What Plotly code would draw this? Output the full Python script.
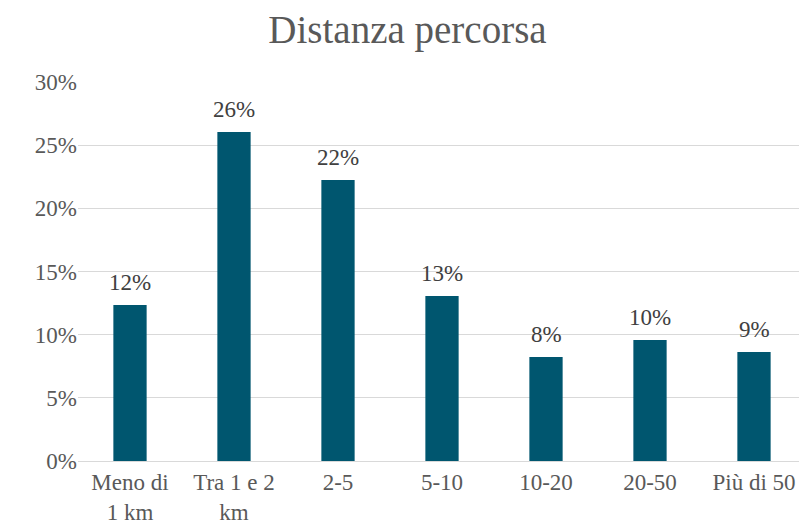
import plotly.graph_objects as go

categories = ["Meno di<br>1 km", "Tra 1 e 2<br>km", "2-5", "5-10", "10-20", "20-50", "Più di 50"]
values = [0.1235, 0.2605, 0.2225, 0.1306, 0.0823, 0.0958, 0.0863]
labels = ["12%", "26%", "22%", "13%", "8%", "10%", "9%"]
y_ticks = [0, 0.05, 0.10, 0.15, 0.20, 0.25, 0.30]
y_tick_labels = ["0%", "5%", "10%", "15%", "20%", "25%", "30%"]

font_family = "Liberation Serif"
text_color = "#595959"

fig = go.Figure(go.Bar(
    x=categories,
    y=values,
    marker=dict(color="#00566F", line=dict(width=0)),
    width=0.32,
    cliponaxis=False,
))

for c, v, t in zip(categories, values, labels):
    fig.add_annotation(x=c, y=v, text=t, showarrow=False, yanchor="bottom", yshift=8,
                       font=dict(family=font_family, size=23, color="#404040"))

fig.update_layout(
    width=799, height=518,
    margin=dict(l=70, r=1, t=74, b=65),
    paper_bgcolor="white",
    plot_bgcolor="white",
    title=dict(text="Distanza percorsa", x=0.5, xanchor="center", y=0.958, yanchor="middle",
               font=dict(family=font_family, size=39, color=text_color)),
    font=dict(family=font_family, size=23, color=text_color),
    showlegend=False,
)
fig.update_yaxes(range=[0, 0.3], tickvals=y_ticks, ticktext=y_tick_labels,
                 showgrid=True, gridcolor="#D9D9D9", gridwidth=1.3,
                 zeroline=False, showline=False, ticks="", ticklen=0, automargin=False,
                 tickfont=dict(family=font_family, size=23, color=text_color))
fig.update_xaxes(showline=True, linecolor="#D9D9D9", linewidth=1.3, ticks="", automargin=False,
                 tickfont=dict(family=font_family, size=23, color=text_color))

fig.write_html("out.html")
